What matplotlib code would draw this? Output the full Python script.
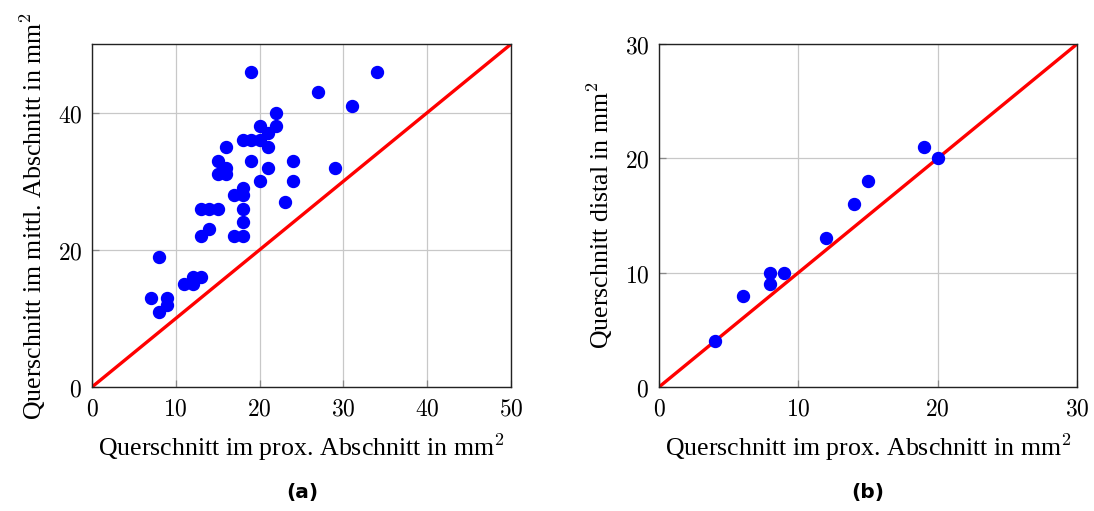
import matplotlib
matplotlib.use("Agg")
import matplotlib.pyplot as plt
from matplotlib.ticker import FuncFormatter

# data (a): prox. vs. mittl. Abschnitt
prox_a = [7, 8, 8, 9, 9, 11, 12, 12, 13, 13, 13, 14, 14, 15, 15, 15, 16, 16, 16,
          17, 17, 18, 18, 18, 18, 18, 18, 19, 19, 19, 20, 20, 20, 21, 21, 21,
          22, 22, 23, 24, 24, 27, 29, 31, 34]
mittl_a = [13, 19, 11, 13, 12, 15, 15, 16, 16, 22, 26, 26, 23, 26, 31, 33, 35, 32, 31,
           28, 22, 22, 24, 26, 28, 29, 36, 46, 36, 33, 36, 38, 30, 37, 35, 32,
           40, 38, 27, 33, 30, 43, 32, 41, 46]

# data (b): prox. vs. distal
prox_b = [4, 6, 8, 8, 9, 12, 14, 15, 19, 20]
distal_b = [4, 8, 9, 10, 10, 13, 16, 18, 21, 20]

lim_a = 50
lim_b = 30
ticks_a = [0, 10, 20, 30, 40, 50]
yticks_a = [0, 20, 40]
ticks_b = [0, 10, 20, 30]

plt.rcParams["mathtext.fontset"] = "cm"
label_font = {"family": "Liberation Serif", "size": 18.6}
tickfmt = FuncFormatter(lambda v, p: r"$%d$" % v)

fig = plt.figure(figsize=(10.94, 5.11), dpi=100)
ax1 = fig.add_axes([0.0841, 0.2427, 0.383, 0.671])
ax2 = fig.add_axes([0.6024, 0.2427, 0.382, 0.671])


def style(ax, lim, xt, yt):
    ax.set_xlim(0, lim)
    ax.set_ylim(0, lim)
    ax.set_xticks(xt)
    ax.set_yticks(yt)
    ax.xaxis.set_major_formatter(tickfmt)
    ax.yaxis.set_major_formatter(tickfmt)
    ax.grid(True, color="#c8c8c8", linewidth=0.9)
    ax.set_axisbelow(True)
    ax.tick_params(direction="in", length=5, width=0.9, color="#888888",
                   labelsize=17, pad=7, top=False, right=False)
    for s in ax.spines.values():
        s.set_linewidth(1.0)
        s.set_color("#222222")


ax1.plot([0, lim_a], [0, lim_a], color="red", linewidth=2.4, zorder=2)
ax1.plot(prox_a, mittl_a, "o", color="#0000ff", markersize=8.6, zorder=3)
style(ax1, lim_a, ticks_a, yticks_a)
ax1.set_xlabel(r"Querschnitt im prox. Abschnitt in mm$^2$", fontdict=label_font, labelpad=8)
ax1.set_ylabel(r"Querschnitt im mittl. Abschnitt in mm$^2$", fontdict=label_font, labelpad=7)

ax2.plot([0, lim_b], [0, lim_b], color="red", linewidth=2.4, zorder=2)
ax2.plot(prox_b, distal_b, "o", color="#0000ff", markersize=8.6, zorder=3)
style(ax2, lim_b, ticks_b, ticks_b)
ax2.set_xlabel(r"Querschnitt im prox. Abschnitt in mm$^2$", fontdict=label_font, labelpad=8)
ax2.set_ylabel(r"Querschnitt distal in mm$^2$", fontdict=label_font, labelpad=7)

fig.text(0.276, 0.037, "(a)", ha="center", va="center", fontsize=14.5,
         fontweight="bold", family="DejaVu Sans")
fig.text(0.7935, 0.037, "(b)", ha="center", va="center", fontsize=14.5,
         fontweight="bold", family="DejaVu Sans")

fig.savefig("out.png", dpi=100)
